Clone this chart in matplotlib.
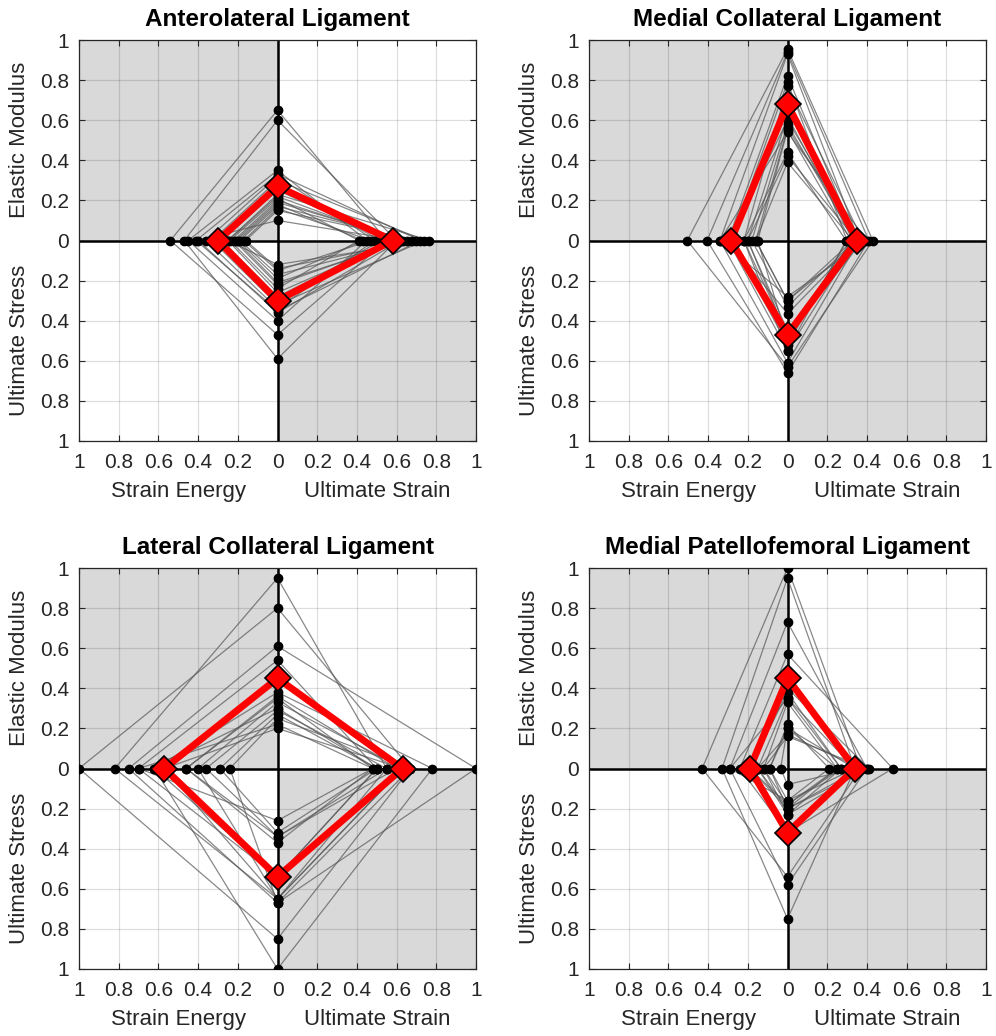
import numpy as np
import matplotlib.pyplot as plt
from matplotlib.ticker import FixedLocator, FuncFormatter

plt.rcParams['font.family'] = ['Liberation Sans', 'DejaVu Sans']

titles = ['Anterolateral Ligament', 'Medial Collateral Ligament',
          'Lateral Collateral Ligament', 'Medial Patellofemoral Ligament']

# normalised properties per specimen: elastic modulus (up), ultimate strain (right),
# ultimate stress (down), strain energy (left)
all_modulus = [0.65, 0.60, 0.35, 0.33, 0.32, 0.30, 0.28, 0.25, 0.22, 0.21, 0.20, 0.19,
               0.18, 0.17, 0.16, 0.15, 0.23, 0.10]
all_strain = [0.55, 0.60, 0.45, 0.72, 0.49, 0.74, 0.52, 0.57, 0.60, 0.41, 0.63, 0.65,
              0.43, 0.68, 0.47, 0.70, 0.765, 0.62]
all_stress = [0.47, 0.59, 0.40, 0.35, 0.34, 0.32, 0.30, 0.28, 0.26, 0.24, 0.22, 0.21,
              0.19, 0.17, 0.15, 0.14, 0.12, 0.36]
all_energy = [0.54, 0.47, 0.45, 0.41, 0.36, 0.33, 0.30, 0.28, 0.25, 0.24, 0.22, 0.21,
              0.20, 0.19, 0.17, 0.16, 0.25, 0.40]

mcl_modulus = [0.955, 0.94, 0.93, 0.82, 0.79, 0.77, 0.62, 0.60, 0.58, 0.56, 0.55, 0.54,
               0.44, 0.42, 0.39]
mcl_strain = [0.43, 0.41, 0.36, 0.35, 0.30, 0.38, 0.33, 0.36, 0.34, 0.37, 0.32, 0.40,
              0.295, 0.35, 0.33]
mcl_stress = [0.63, 0.66, 0.61, 0.55, 0.52, 0.47, 0.45, 0.365, 0.33, 0.30, 0.50, 0.28,
              0.55, 0.48, 0.30]
mcl_energy = [0.505, 0.405, 0.34, 0.30, 0.285, 0.22, 0.20, 0.30, 0.18, 0.16, 0.15, 0.34,
              0.22, 0.20, 0.16]

lcl_modulus = [0.95, 0.80, 0.61, 0.54, 0.38, 0.35, 0.33, 0.29, 0.27, 0.25, 0.22, 0.20,
               0.30, 0.36]
lcl_strain = [0.55, 0.67, 1.00, 0.50, 0.78, 0.48, 0.63, 0.55, 0.50, 0.67, 0.48, 0.63,
              0.50, 0.60]
lcl_stress = [0.65, 0.85, 0.67, 0.54, 1.00, 0.37, 0.65, 0.34, 0.32, 0.67, 0.26, 0.65,
              0.54, 0.34]
lcl_energy = [0.82, 1.00, 0.75, 0.70, 0.62, 0.46, 0.40, 0.36, 0.29, 0.24, 0.70, 0.57,
              0.62, 0.46]

mpfl_modulus = [1.00, 0.95, 0.73, 0.57, 0.40, 0.35, 0.33, 0.22, 0.20, 0.17, 0.16, 0.35,
                0.38, 0.20]
mpfl_strain = [0.37, 0.34, 0.40, 0.53, 0.41, 0.27, 0.25, 0.21, 0.34, 0.37, 0.40, 0.34,
               0.27, 0.25]
mpfl_stress = [0.54, 0.75, 0.58, 0.32, 0.20, 0.23, 0.18, 0.16, 0.08, 0.20, 0.23, 0.16,
               0.18, 0.20]
mpfl_energy = [0.43, 0.33, 0.29, 0.24, 0.19, 0.15, 0.12, 0.09, 0.035, 0.15, 0.12, 0.29,
               0.19, 0.09]

# group means (red diamonds)
mean_modulus = [0.27, 0.68, 0.45, 0.45]
mean_strain = [0.58, 0.35, 0.63, 0.34]
mean_stress = [0.30, 0.47, 0.54, 0.32]
mean_energy = [0.30, 0.285, 0.57, 0.19]

groups = [
    (all_modulus, all_strain, all_stress, all_energy),
    (mcl_modulus, mcl_strain, mcl_stress, mcl_energy),
    (lcl_modulus, lcl_strain, lcl_stress, lcl_energy),
    (mpfl_modulus, mpfl_strain, mpfl_stress, mpfl_energy),
]

tick_vals = np.round(np.arange(-1, 1.01, 0.2), 1)
abs_fmt = FuncFormatter(lambda v, p: f'{abs(v):g}')


def kite(m, s, t, e):
    xs = [0, s, 0, -e, 0]
    ys = [m, 0, -t, 0, m]
    return xs, ys


fig = plt.figure(figsize=(9.96, 10.36), dpi=100)
W, H = 996, 1036
boxes = [(79, 40), (589, 40), (79, 568), (589, 568)]
txt = '#262626'

for k, (x0, y0) in enumerate(boxes):
    ax = fig.add_axes([x0 / W, 1 - (y0 + 401) / H, 397 / W, 401 / H])
    ax.set_xlim(-1, 1)
    ax.set_ylim(-1, 1)

    ax.fill([-1, 0, 0, -1], [0, 0, 1, 1], color='#d9d9d9', lw=0, zorder=0)
    ax.fill([0, 1, 1, 0], [-1, -1, 0, 0], color='#d9d9d9', lw=0, zorder=0)
    ax.grid(True, color='k', alpha=0.13, lw=0.9)
    ax.axhline(0, color='k', lw=1.8, zorder=1.8)
    ax.axvline(0, color='k', lw=1.8, zorder=1.8)

    mod, strain, stress, energy = groups[k]
    for m, s, t, e in zip(mod, strain, stress, energy):
        xs, ys = kite(m, s, t, e)
        ax.plot(xs, ys, color='#555555', lw=0.9, alpha=0.7, zorder=2)
    dots_x = list(strain) + [-e for e in energy] + [0] * (len(mod) + len(stress))
    dots_y = [0] * (len(strain) + len(energy)) + list(mod) + [-t for t in stress]
    ax.plot(dots_x, dots_y, 'o', color='k', ms=6, ls='none', zorder=3)

    xs, ys = kite(mean_modulus[k], mean_strain[k], mean_stress[k], mean_energy[k])
    ax.plot(xs, ys, color='red', lw=5, zorder=4, solid_joinstyle='miter')
    ax.plot(xs[:4], ys[:4], 'D', ms=13, mfc='red', mec='k', mew=1.2, ls='none', zorder=5)

    ax.xaxis.set_major_locator(FixedLocator(tick_vals))
    ax.yaxis.set_major_locator(FixedLocator(tick_vals))
    ax.xaxis.set_major_formatter(abs_fmt)
    ax.yaxis.set_major_formatter(abs_fmt)
    ax.tick_params(direction='in', top=True, right=True, length=4, width=0.8,
                   labelsize=15, colors=txt)
    ax.tick_params(axis='x', pad=9)
    ax.tick_params(axis='y', pad=7)
    for sp in ax.spines.values():
        sp.set_color(txt)
        sp.set_linewidth(0.9)

    ax.set_title(titles[k], fontsize=17.5, fontweight='bold', pad=10)
    ax.text(-0.5, -1.2, 'Strain Energy', ha='center', va='top', fontsize=16,
            color=txt, transform=ax.transData, clip_on=False)
    ax.text(0.5, -1.2, 'Ultimate Strain', ha='center', va='top', fontsize=16,
            color=txt, transform=ax.transData, clip_on=False)
    ax.text(-1.30, 0.5, 'Elastic Modulus', ha='center', va='center', rotation=90,
            fontsize=16, color=txt, transform=ax.transData, clip_on=False)
    ax.text(-1.30, -0.5, 'Ultimate Stress', ha='center', va='center', rotation=90,
            fontsize=16, color=txt, transform=ax.transData, clip_on=False)

fig.savefig('out.png', dpi=100)
